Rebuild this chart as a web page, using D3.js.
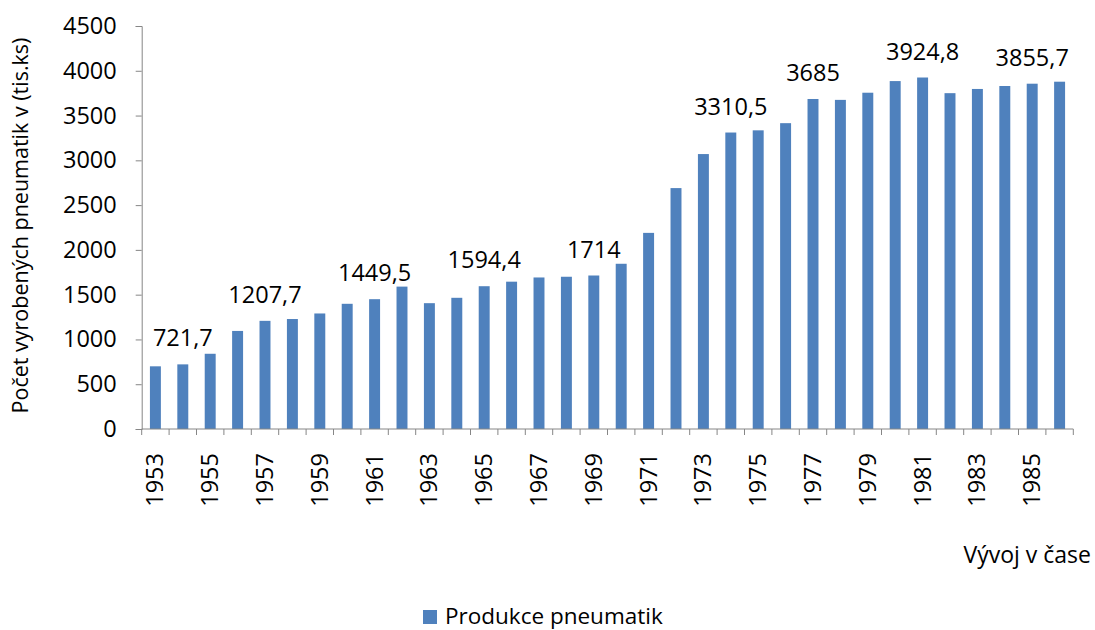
<!DOCTYPE html>
<html>
<head>
<meta charset="utf-8">
<script src="https://cdn.jsdelivr.net/npm/d3@7"></script>
<style>
  body { margin: 0; background: #fff; }
  svg text { font-family: "Open Sans", sans-serif; fill: #000; }
</style>
</head>
<body>
<svg id="chart" width="1095" height="630"></svg>
<script>
const years = d3.range(1953, 1987);
const values = [700, 721.7, 840, 1095, 1207.7, 1228, 1290, 1398, 1449.5, 1590,
  1405, 1465, 1594.4, 1645, 1692, 1700, 1714, 1845, 2190, 2690,
  3070, 3310.5, 3335, 3415, 3685, 3675, 3755, 3885, 3924.8, 3750,
  3797, 3830, 3855.7, 3878];
const labelYears = [1954, 1957, 1961, 1965, 1969, 1974, 1977, 1981, 1985];
const yTicks = [0, 500, 1000, 1500, 2000, 2500, 3000, 3500, 4000, 4500];
const seriesName = "Produkce pneumatik";
const yTitle = "Počet vyrobených pneumatik v (tis.ks)";
const xTitle = "Vývoj v čase";

const barColor = "#4f81bd";
const axisColor = "#868686";
const data = years.map((y, i) => ({year: y, value: values[i]}));

const svg = d3.select('#chart');
const x = d3.scaleBand().domain(years).range([141.7, 1073.3])
  .paddingInner(0.6).paddingOuter(0.3);
const y = d3.scaleLinear().domain([0, 4500]).range([429, 26]);
const step = x.step();

// bars
svg.append('g').selectAll('rect').data(data)
  .join('rect')
  .attr('x', d => x(d.year)).attr('width', x.bandwidth())
  .attr('y', d => y(d.value)).attr('height', d => y(0) - y(d.value))
  .attr('fill', barColor);

// y axis
const yAxis = svg.append('g').attr('transform', `translate(${x.range()[0]},0)`)
  .call(d3.axisLeft(y).tickValues(yTicks).tickSize(6).tickPadding(19).tickFormat(d3.format('d')));
yAxis.select('.domain').attr('stroke', axisColor);
yAxis.selectAll('.tick line').attr('stroke', axisColor);
yAxis.selectAll('.tick text').attr('font-size', 23.5).attr('font-family', '"Open Sans", sans-serif').attr('fill', '#000');

// x axis with ticks between categories
const xg = svg.append('g');
xg.append('line').attr('x1', x.range()[0]).attr('x2', x.range()[1])
  .attr('y1', y(0)).attr('y2', y(0)).attr('stroke', axisColor);
xg.selectAll('.xt').data(d3.range(years.length + 1)).join('line').attr('class', 'xt')
  .attr('x1', i => x.range()[0] + i * step).attr('x2', i => x.range()[0] + i * step)
  .attr('y1', y(0)).attr('y2', y(0) + 6).attr('stroke', axisColor);
xg.selectAll('.xl').data(years.filter((d, i) => i % 2 === 0)).join('text').attr('class', 'xl')
  .attr('transform', d => `translate(${x(d) + x.bandwidth() / 2 + 8},${y(0) + 24}) rotate(-90)`)
  .attr('text-anchor', 'end').attr('font-size', 23.5).text(d => d);

// data labels
const fmt = v => String(v).replace('.', ',');
svg.append('g').selectAll('text').data(data.filter(d => labelYears.includes(d.year)))
  .join('text')
  .attr('x', d => x(d.year) + x.bandwidth() / 2)
  .attr('y', d => y(d.value) - 18)
  .attr('text-anchor', 'middle').attr('font-size', 23.5)
  .text(d => fmt(d.value));

// titles
svg.append('text').attr('transform', `translate(28,${(y(0) + y(4500)) / 2 - 2}) rotate(-90)`)
  .attr('text-anchor', 'middle').attr('font-size', 21.5).text(yTitle);
svg.append('text').attr('x', 1091).attr('y', 563).attr('text-anchor', 'end')
  .attr('font-size', 23).text(xTitle);

// legend
const lg = svg.append('g').attr('transform', 'translate(423,610)');
lg.append('rect').attr('width', 14).attr('height', 14).attr('fill', barColor);
lg.append('text').attr('x', 22).attr('y', 14).attr('font-size', 22.5).text(seriesName);
</script>
</body>
</html>
